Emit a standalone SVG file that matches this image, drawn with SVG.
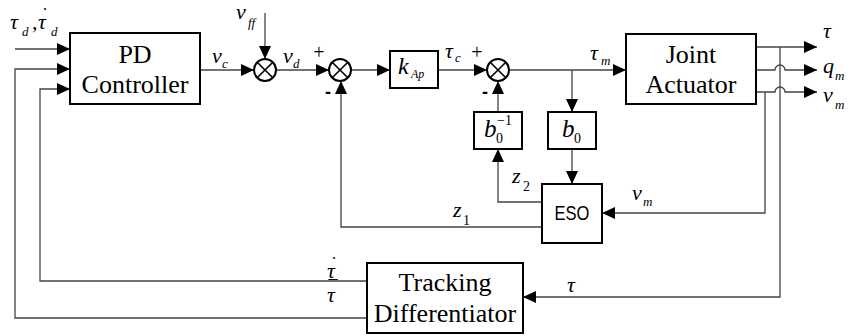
<svg xmlns="http://www.w3.org/2000/svg" width="853" height="336" viewBox="0 0 853 336">
<defs>
<marker id="ar" markerUnits="userSpaceOnUse" markerWidth="13" markerHeight="12" refX="13" refY="6" orient="auto">
<path d="M0,0 L13,6 L0,12 Z" fill="#000"/>
</marker>
</defs>

<g id="connectors" fill="none" stroke="#444" stroke-width="1.3" marker-end="url(#ar)">
<path d="M15,49 H70"/>
<path d="M367,318 H15 V69 H70"/>
<path d="M367,281 H40 V89 H70"/>
<path d="M200,70 H254"/>
<path d="M265,13 V59"/>
<path d="M276,70 H329"/>
<path d="M351,70 H390"/>
<path d="M438,70 H487"/>
<path d="M509,70 H626"/>
<path d="M572,70 V112"/>
<path d="M572,149 V184"/>
<path d="M498,112 V81"/>
<path d="M542,202 H498 V149"/>
<path d="M542,227 H341 V81"/>
<path d="M756,47 H817"/>
<path d="M756,70 H775 A5,5 0 0 1 785,70 H817"/>
<path d="M756,92 H775 A5,5 0 0 1 785,92 H817"/>
<path d="M765,92 V213 H602"/>
<path d="M780,47 V297 H523"/>
</g>

<g id="pd">
<rect x="70" y="33" width="130" height="71" fill="#fff" stroke="#000" stroke-width="2"/>
<text x="135" y="63" font-family="Liberation Serif" font-size="26" text-anchor="middle">PD</text>
<text x="135" y="93" font-family="Liberation Serif" font-size="26" text-anchor="middle">Controller</text>
</g>

<g id="sum1">
<circle cx="265" cy="70" r="11" fill="#fff" stroke="#000" stroke-width="2"/>
<path d="M257.2,62.2 L272.8,77.8 M272.8,62.2 L257.2,77.8" stroke="#000" stroke-width="1.6"/>
</g>

<g id="sum2">
<circle cx="340" cy="70" r="11" fill="#fff" stroke="#000" stroke-width="2"/>
<path d="M332.2,62.2 L347.8,77.8 M347.8,62.2 L332.2,77.8" stroke="#000" stroke-width="1.6"/>
<text x="319" y="59" font-family="Liberation Serif" font-size="20" text-anchor="middle">+</text>
<text x="328" y="98" font-family="Liberation Sans" font-weight="bold" font-size="18" text-anchor="middle">-</text>
</g>

<g id="kap">
<rect x="390" y="51" width="48" height="37" fill="#fff" stroke="#000" stroke-width="2"/>
<text x="398" y="74" font-family="Liberation Serif" font-style="italic" font-size="24">k</text>
<text x="411" y="78" font-family="Liberation Serif" font-style="italic" font-size="12">Ap</text>
</g>

<g id="sum3">
<circle cx="498" cy="70" r="11" fill="#fff" stroke="#000" stroke-width="2"/>
<path d="M490.2,62.2 L505.8,77.8 M505.8,62.2 L490.2,77.8" stroke="#000" stroke-width="1.6"/>
<text x="477" y="59" font-family="Liberation Serif" font-size="20" text-anchor="middle">+</text>
<text x="485" y="98" font-family="Liberation Sans" font-weight="bold" font-size="18" text-anchor="middle">-</text>
</g>

<g id="binv">
<rect x="474" y="112" width="48" height="37" fill="#fff" stroke="#000" stroke-width="2"/>
<text x="484" y="137" font-family="Liberation Serif" font-style="italic" font-size="25">b</text>
<text x="496" y="143" font-family="Liberation Serif" font-size="14">0</text>
<text x="497" y="125" font-family="Liberation Serif" font-size="14">−1</text>
</g>

<g id="b0">
<rect x="548" y="112" width="48" height="37" fill="#fff" stroke="#000" stroke-width="2"/>
<text x="562" y="137" font-family="Liberation Serif" font-style="italic" font-size="25">b</text>
<text x="574" y="143" font-family="Liberation Serif" font-size="14">0</text>
</g>

<g id="eso">
<rect x="542" y="184" width="60" height="59" fill="#fff" stroke="#000" stroke-width="2"/>
<text x="572" y="220" font-family="Liberation Sans" font-size="20" text-anchor="middle" textLength="35" lengthAdjust="spacingAndGlyphs">ESO</text>
</g>

<g id="joint">
<rect x="626" y="34" width="130" height="70" fill="#fff" stroke="#000" stroke-width="2"/>
<text x="691" y="63" font-family="Liberation Serif" font-size="26" text-anchor="middle">Joint</text>
<text x="691" y="93" font-family="Liberation Serif" font-size="26" text-anchor="middle">Actuator</text>
</g>

<g id="td">
<rect x="367" y="263" width="156" height="70" fill="#fff" stroke="#000" stroke-width="2"/>
<text x="445" y="291" font-family="Liberation Serif" font-size="26" text-anchor="middle">Tracking</text>
<text x="445" y="322" font-family="Liberation Serif" font-size="26" text-anchor="middle">Differentiator</text>
</g>

<g id="labels">
<text x="10" y="29" font-family="Liberation Serif" font-style="italic" font-size="22">τ</text>
<text x="22" y="36" font-family="Liberation Serif" font-style="italic" font-size="13">d</text>
<text x="32" y="29" font-family="Liberation Serif" font-size="22">,</text>
<text x="38" y="29" font-family="Liberation Serif" font-style="italic" font-size="22">τ</text>
<text x="45" y="21" font-family="Liberation Serif" font-size="18" text-anchor="middle">˙</text>
<text x="51" y="36" font-family="Liberation Serif" font-style="italic" font-size="13">d</text>
<text x="236" y="19" font-family="Liberation Serif" font-style="italic" font-size="22">v</text>
<text x="248" y="27" font-family="Liberation Serif" font-style="italic" font-size="13">ff</text>
<text x="212" y="63" font-family="Liberation Serif" font-style="italic" font-size="22">v</text>
<text x="222" y="68" font-family="Liberation Serif" font-style="italic" font-size="13">c</text>
<text x="283" y="63" font-family="Liberation Serif" font-style="italic" font-size="22">v</text>
<text x="293" y="68" font-family="Liberation Serif" font-style="italic" font-size="13">d</text>
<text x="445" y="58" font-family="Liberation Serif" font-style="italic" font-size="22">τ</text>
<text x="455" y="62" font-family="Liberation Serif" font-style="italic" font-size="13">c</text>
<text x="590" y="60" font-family="Liberation Serif" font-style="italic" font-size="22">τ</text>
<text x="601" y="65" font-family="Liberation Serif" font-style="italic" font-size="13">m</text>
<text x="823" y="38" font-family="Liberation Serif" font-style="italic" font-size="22">τ</text>
<text x="823" y="73" font-family="Liberation Serif" font-style="italic" font-size="22">q</text>
<text x="835" y="80" font-family="Liberation Serif" font-style="italic" font-size="13">m</text>
<text x="823" y="102" font-family="Liberation Serif" font-style="italic" font-size="22">v</text>
<text x="835" y="109" font-family="Liberation Serif" font-style="italic" font-size="13">m</text>
<text x="512" y="183" font-family="Liberation Serif" font-style="italic" font-size="22">z</text>
<text x="523" y="191" font-family="Liberation Serif" font-size="14">2</text>
<text x="453" y="217" font-family="Liberation Serif" font-style="italic" font-size="22">z</text>
<text x="463" y="225" font-family="Liberation Serif" font-size="14">1</text>
<text x="632" y="200" font-family="Liberation Serif" font-style="italic" font-size="22">v</text>
<text x="643" y="206" font-family="Liberation Serif" font-style="italic" font-size="13">m</text>
<text x="567" y="292" font-family="Liberation Serif" font-style="italic" font-size="22">τ</text>
<text x="327" y="278" font-family="Liberation Serif" font-style="italic" font-size="22">τ</text>
<text x="334" y="270" font-family="Liberation Serif" font-size="18" text-anchor="middle">˙</text>
<text x="327" y="302" font-family="Liberation Serif" font-style="italic" font-size="22">τ</text>
<text x="333" y="293" font-family="Liberation Serif" font-size="18" text-anchor="middle">¯</text>
</g>
</svg>
